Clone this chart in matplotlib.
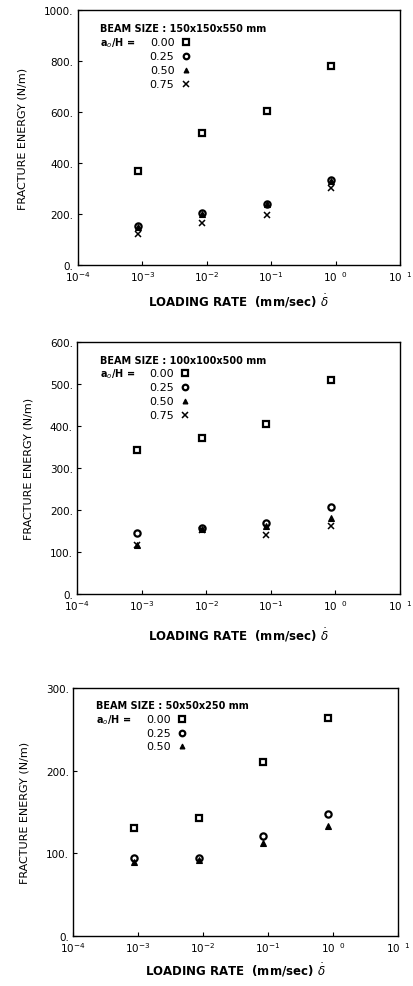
import numpy as np
import matplotlib
matplotlib.use("Agg")
import matplotlib.pyplot as plt
from matplotlib.ticker import FixedLocator, FixedFormatter

# loading rates (mm/sec)
rates = [8.5e-4, 8.5e-3, 8.5e-2, 8.5e-1]

# beam 150x150x550
b1_000 = [370, 516, 603, 781]
b1_025 = [153, 205, 241, 335]
b1_050 = [150, 200, 238, 330]
b1_075 = [120, 164, 195, 302]

# beam 100x100x500
b2_000 = [342, 371, 405, 509]
b2_025 = [144, 158, 168, 206]
b2_050 = [117, 155, 162, 182]
b2_075 = [117, 153, 140, 163]

# beam 50x50x250
b3_000 = [131, 143, 210, 264]
b3_025 = [94, 94, 121, 147]
b3_050 = [90, 92, 112, 133]

ratio_labels = ["0.00", "0.25", "0.50", "0.75"]
markers = ["s", "o", "^", "x"]

panels = [
    ("150x150x550", [b1_000, b1_025, b1_050, b1_075], 1000, 200,
     [0.188, 0.7305, 0.778, 0.2584], 6),
    ("100x100x500", [b2_000, b2_025, b2_050, b2_075], 600, 100,
     [0.186, 0.3972, 0.780, 0.2553], 10),
    ("50x50x250", [b3_000, b3_025, b3_050], 300, 100,
     [0.177, 0.0507, 0.784, 0.2513], 5),
]

fig = plt.figure(figsize=(4.14, 9.87), dpi=100)

def style_marker(ax, m, x, y, transform=None, size=4.5):
    kw = dict(color="black", linestyle="none", clip_on=False)
    if transform is not None:
        kw["transform"] = transform
    if m == "x":
        ax.plot(x, y, marker="x", markersize=size, markeredgewidth=1.1, **kw)
    elif m == "^":
        ax.plot(x, y, marker="^", markersize=size - 0.5, markerfacecolor="black",
                markeredgewidth=0.8, **kw)
    else:
        ax.plot(x, y, marker=m, markersize=size, markerfacecolor="white",
                markeredgewidth=1.6, **kw)

for size_txt, series, ymax, ystep, rect, xpad in panels:
    ax = fig.add_axes(rect)
    ax.set_xscale("log")
    ax.set_xlim(1e-4, 1e1)
    ax.set_ylim(0, ymax)
    for vals, m in zip(series, markers):
        style_marker(ax, m, rates, vals)

    yt = np.arange(0, ymax + 1, ystep)
    ax.yaxis.set_major_locator(FixedLocator(yt))
    ax.yaxis.set_major_formatter(FixedFormatter([f"{int(v)}." for v in yt]))
    xt = [1e-4, 1e-3, 1e-2, 1e-1, 1e0, 1e1]
    ax.xaxis.set_major_locator(FixedLocator(xt))
    ax.xaxis.set_major_formatter(FixedFormatter(
        [r"$10^{-4}$", r"$10^{-3}$", r"$10^{-2}$", r"$10^{-1}$",
         r"$10^{\ \ 0}$", r"$10^{\ \ 1}$"]))
    ax.minorticks_off()
    ax.tick_params(direction="in", length=3, width=0.8, labelsize=7.5, pad=3)
    for s in ax.spines.values():
        s.set_linewidth(1.0)

    ax.set_ylabel("FRACTURE ENERGY (N/m)", fontsize=8, labelpad=12)
    ax.set_xlabel(r"LOADING RATE  (mm/sec) $\dot{\delta}$", fontsize=8.5,
                  fontweight="bold", labelpad=xpad)

    # legend block drawn as text
    tx = 0.07
    ty = 0.93
    dy = 0.055
    ax.text(tx, ty, f"BEAM SIZE : {size_txt} mm", transform=ax.transAxes,
            fontsize=7, fontweight="bold", va="center")
    for i, lab in enumerate(ratio_labels[:len(series)]):
        yy = ty - dy * (i + 1)
        if i == 0:
            ax.text(tx, yy, r"a$_o$/H =", transform=ax.transAxes,
                    fontsize=7, fontweight="bold", va="center")
        ax.text(0.30, yy, lab, transform=ax.transAxes, fontsize=8,
                va="center", ha="right")
        style_marker(ax, markers[i], [0.335], [yy], transform=ax.transAxes,
                     size=4)

fig.savefig("out.png", dpi=100)
